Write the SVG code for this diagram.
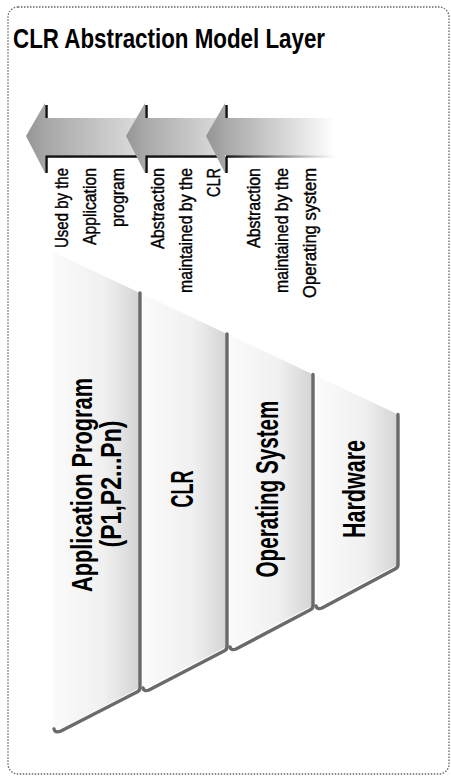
<svg xmlns="http://www.w3.org/2000/svg" width="451" height="776" viewBox="0 0 451 776">
  <style>
    .title { font-family: "Liberation Sans", Arial, sans-serif; font-size: 28px; font-weight: bold; fill: #000; }
    .note { font-family: "Liberation Sans", Arial, sans-serif; font-size: 18px; fill: #000; stroke: #000; stroke-width: 0.4; }
    .layer { font-family: "Liberation Sans", Arial, sans-serif; font-size: 32px; font-weight: bold; fill: #000; }
    .layer-sm { font-size: 29px; }
    .panel { stroke: none; }
    .edge { fill: none; stroke: #6a6a6a; stroke-width: 3.4; stroke-linejoin: round; stroke-linecap: round; }
    .shadow { fill: none; stroke: #111; stroke-width: 2.5; }
  </style>
  <defs>
    <linearGradient id="panelFill" x1="0" y1="0" x2="1" y2="0">
      <stop offset="0" stop-color="#fbfbfb"/>
      <stop offset="0.6" stop-color="#f0f0f0"/>
      <stop offset="1" stop-color="#d4d4d4"/>
    </linearGradient>
    <linearGradient id="arrow1Fill" gradientUnits="userSpaceOnUse" x1="26" y1="0" x2="140" y2="0">
      <stop offset="0" stop-color="#959595"/>
      <stop offset="0.2" stop-color="#a9a9a9"/>
      <stop offset="1" stop-color="#dcdcdc"/>
    </linearGradient>
    <linearGradient id="arrow2Fill" gradientUnits="userSpaceOnUse" x1="126" y1="0" x2="222" y2="0">
      <stop offset="0" stop-color="#959595"/>
      <stop offset="0.2" stop-color="#a9a9a9"/>
      <stop offset="1" stop-color="#dcdcdc"/>
    </linearGradient>
    <linearGradient id="arrow3Fill" gradientUnits="userSpaceOnUse" x1="206" y1="0" x2="335" y2="0">
      <stop offset="0" stop-color="#959595"/>
      <stop offset="0.16" stop-color="#a9a9a9"/>
      <stop offset="1" stop-color="#ffffff"/>
    </linearGradient>
    <linearGradient id="arrow3Shadow" gradientUnits="userSpaceOnUse" x1="225" y1="0" x2="335" y2="0">
      <stop offset="0" stop-color="#111"/>
      <stop offset="1" stop-color="#111" stop-opacity="0"/>
    </linearGradient>
  </defs>

  <!-- frame -->
  <rect x="8" y="7" width="441" height="767" rx="10" ry="10" fill="#fff" stroke="#666" stroke-width="1.3" stroke-dasharray="1.5 1.5"/>

  <g id="title">
    <text class="title" x="13" y="48" textLength="312" lengthAdjust="spacingAndGlyphs">CLR Abstraction Model Layer</text>
  </g>

  <!-- block arrows pointing left (towards the application) -->
  <g id="connectors">
    <g id="arrow-app">
      <path d="M26,136 L45,103 L45,118 L140,118 L140,155 L45,155 L45,173 Z" fill="url(#arrow1Fill)"/>
      <path class="shadow" d="M46.5,105 L46.5,118"/>
      <path class="shadow" d="M46.5,173 L46.5,156.5 L140,156.5"/>
    </g>
    <g id="arrow-clr">
      <path d="M126,136 L145,103 L145,118 L222,118 L222,155 L145,155 L145,173 Z" fill="url(#arrow2Fill)"/>
      <path class="shadow" d="M146.5,105 L146.5,118"/>
      <path class="shadow" d="M146.5,173 L146.5,156.5 L222,156.5"/>
    </g>
    <g id="arrow-os">
      <path d="M206,136 L225,103 L225,118 L335,118 L335,155 L225,155 L225,173 Z" fill="url(#arrow3Fill)"/>
      <path class="shadow" d="M226.5,105 L226.5,118"/>
      <path class="shadow" d="M226.5,173 L226.5,156.5" />
      <path d="M226,156.5 L335,156.5" fill="none" stroke="url(#arrow3Shadow)" stroke-width="2.5"/>
    </g>
  </g>

  <!-- arrow captions, rotated to read bottom-up -->
  <g id="note-app" class="note" text-anchor="end">
    <text transform="translate(68,168) rotate(-90)" textLength="80" lengthAdjust="spacingAndGlyphs">Used by the</text>
    <text transform="translate(96,168) rotate(-90)" textLength="77" lengthAdjust="spacingAndGlyphs">Application</text>
    <text transform="translate(124,168) rotate(-90)" textLength="59" lengthAdjust="spacingAndGlyphs">program</text>
  </g>
  <g id="note-clr" class="note" text-anchor="end">
    <text transform="translate(164,168) rotate(-90)" textLength="81" lengthAdjust="spacingAndGlyphs">Abstraction</text>
    <text transform="translate(192,168) rotate(-90)" textLength="125" lengthAdjust="spacingAndGlyphs">maintained by the</text>
    <text transform="translate(220,168) rotate(-90)" textLength="29" lengthAdjust="spacingAndGlyphs">CLR</text>
  </g>
  <g id="note-os" class="note" text-anchor="end">
    <text transform="translate(260,168) rotate(-90)" textLength="80" lengthAdjust="spacingAndGlyphs">Abstraction</text>
    <text transform="translate(288,168) rotate(-90)" textLength="125" lengthAdjust="spacingAndGlyphs">maintained by the</text>
    <text transform="translate(316,168) rotate(-90)" textLength="130" lengthAdjust="spacingAndGlyphs">Operating system</text>
  </g>

  <!-- layers, narrowing towards the hardware -->
  <g id="layer-app">
    <path class="panel" fill="url(#panelFill)" d="M53,252 L139,292.5 L139,688 L60,729 Q54,732 53,726 Z"/>
    <path class="edge" d="M140,293 L140,688 Q140,690.5 137,692 L61,731 Q55,733.5 54,729"/>
    <text class="layer layer-sm" text-anchor="middle" transform="translate(92,485) rotate(-90)" textLength="214" lengthAdjust="spacingAndGlyphs">Application Program</text>
    <text class="layer layer-sm" text-anchor="middle" transform="translate(121,484) rotate(-90)" textLength="127" lengthAdjust="spacingAndGlyphs">(P1,P2...Pn)</text>
  </g>
  <g id="layer-clr">
    <path class="panel" fill="url(#panelFill)" d="M143,294.3 L226,333.5 L226,647 L149,686 Q143,689 143,684 Z"/>
    <path class="edge" d="M227,334 L227,647 Q227,649.5 224,651 L149,690 Q144,692 143,688"/>
    <text class="layer" text-anchor="middle" transform="translate(193,489) rotate(-90)" textLength="37" lengthAdjust="spacingAndGlyphs">CLR</text>
  </g>
  <g id="layer-os">
    <path class="panel" fill="url(#panelFill)" d="M230,335.2 L312,374 L312,606 L236,645 Q230,648 230,643 Z"/>
    <path class="edge" d="M313,374.5 L313,606 Q313,608.5 310,610 L236,649 Q231,651 230,647"/>
    <text class="layer" text-anchor="middle" transform="translate(278,489) rotate(-90)" textLength="177" lengthAdjust="spacingAndGlyphs">Operating System</text>
  </g>
  <g id="layer-hw">
    <path class="panel" fill="url(#panelFill)" d="M316,375.6 L397,414 L397,565 L322,604 Q316,607 316,602 Z"/>
    <path class="edge" d="M398,414.5 L398,565 Q398,567.5 395,569 L322,608 Q317,610 316,606"/>
    <text class="layer" text-anchor="middle" transform="translate(365,489) rotate(-90)" textLength="98" lengthAdjust="spacingAndGlyphs">Hardware</text>
  </g>
</svg>
